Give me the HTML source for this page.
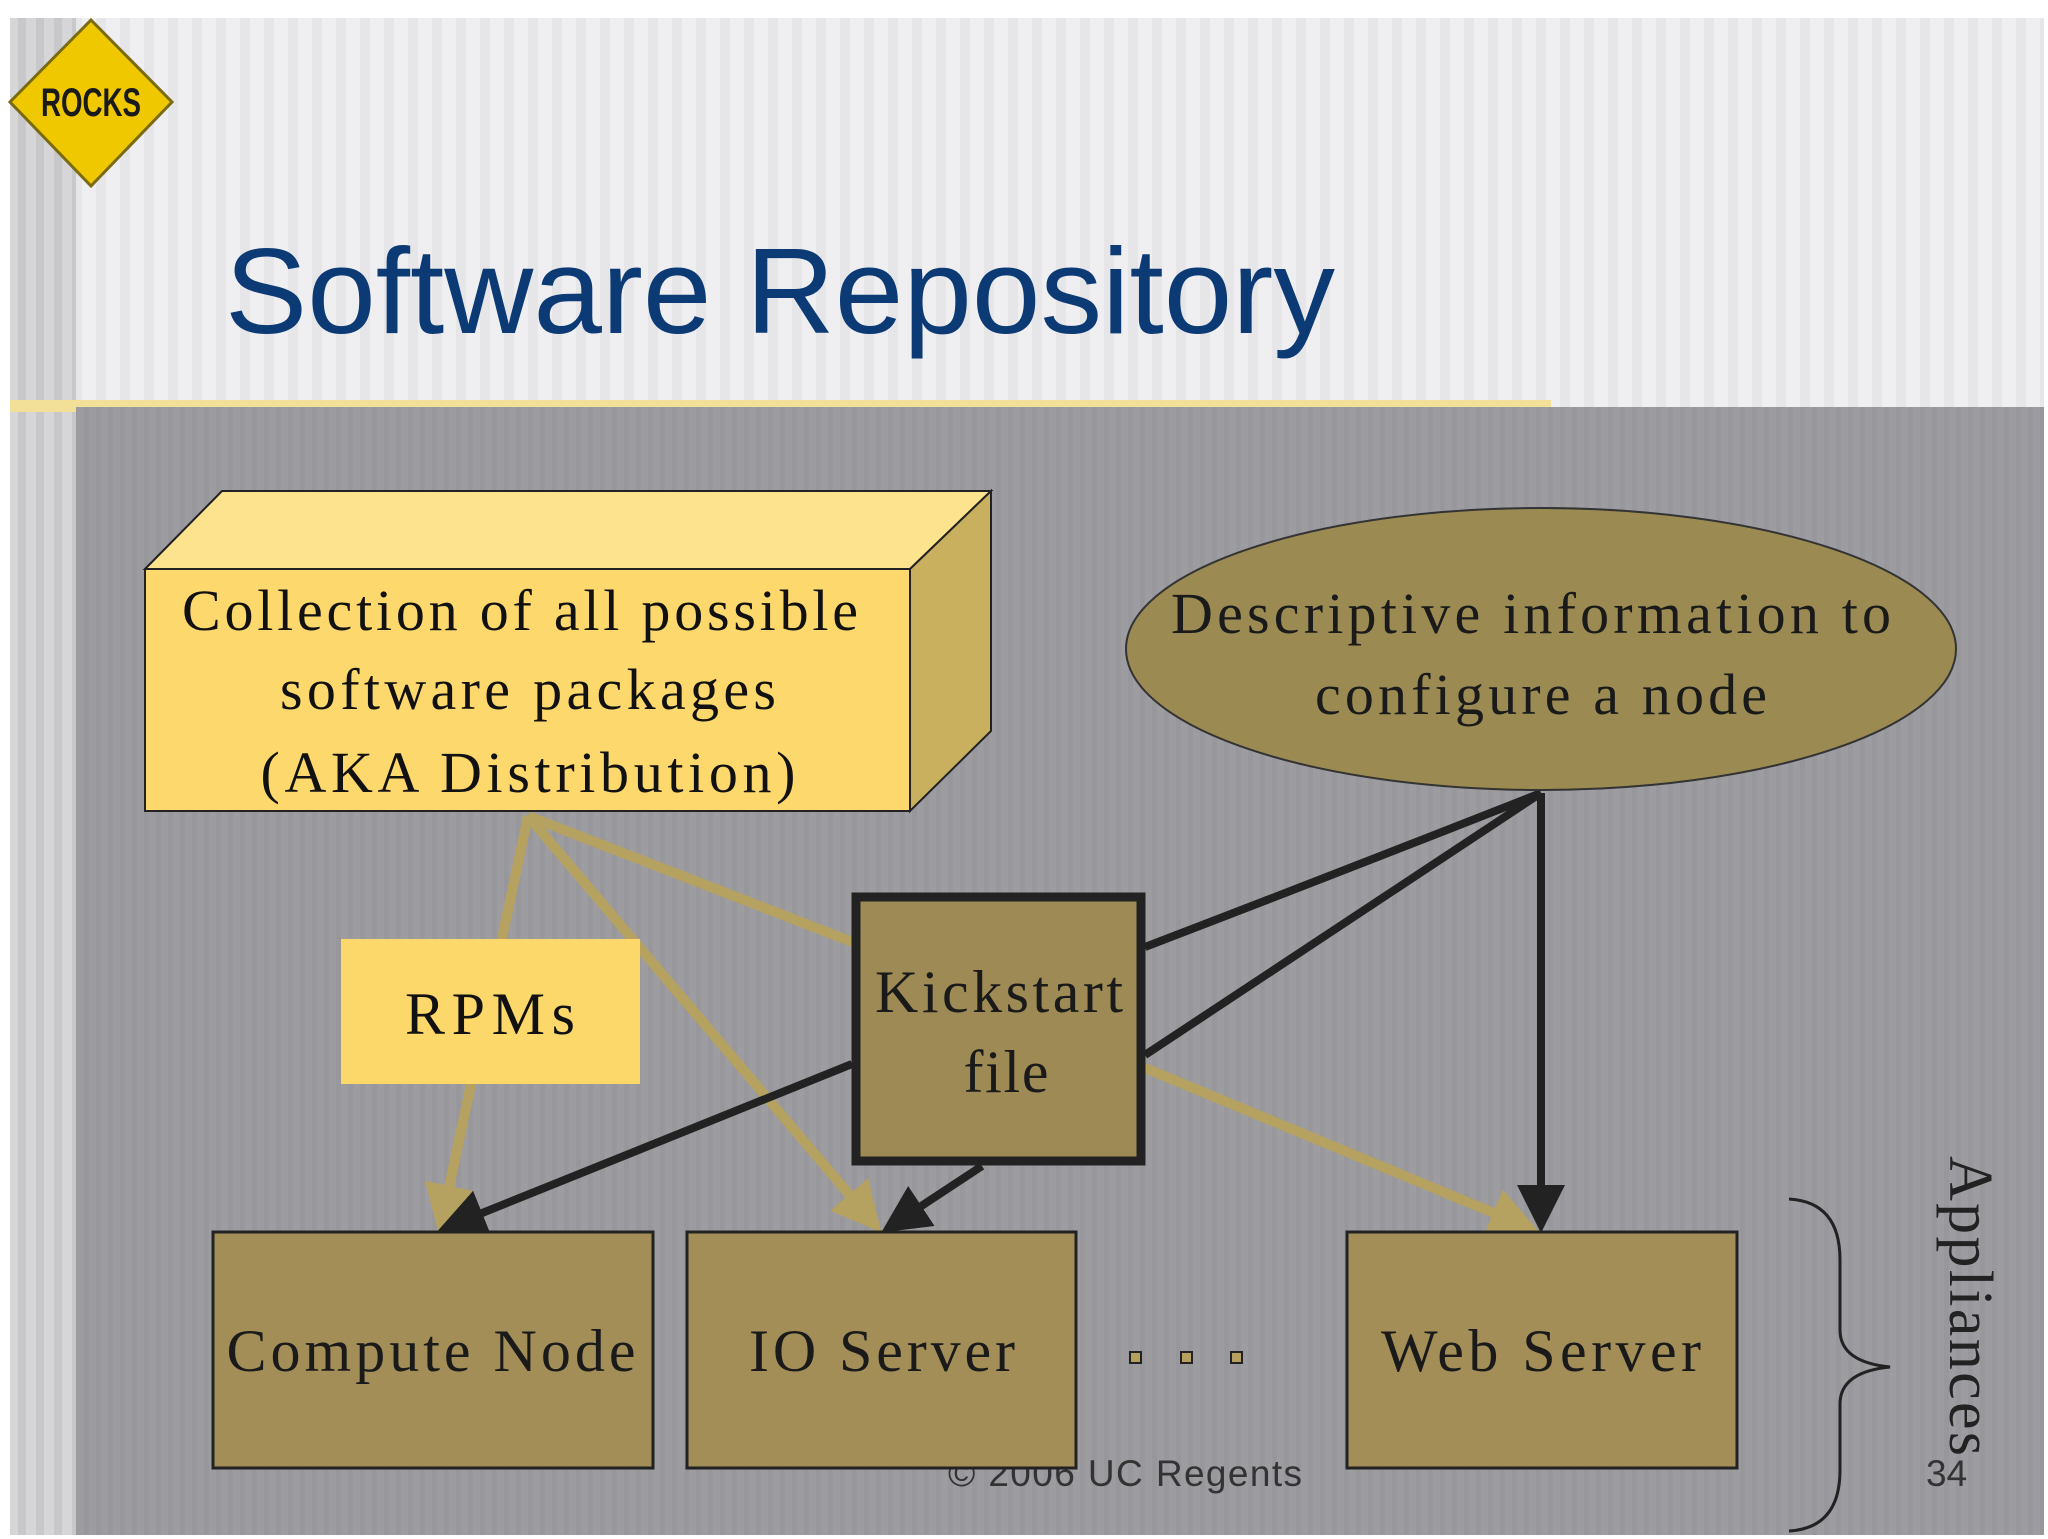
<!DOCTYPE html>
<html><head><meta charset="utf-8"><style>
html,body{margin:0;padding:0;background:#fff;}
svg{display:block}
</style></head><body>
<svg width="2048" height="1539" viewBox="0 0 2048 1539" xmlns="http://www.w3.org/2000/svg">
<defs>
<pattern id="hs" width="24" height="10" patternUnits="userSpaceOnUse">
<rect width="24" height="10" fill="#efeff1"/><rect width="10" height="10" fill="#e6e6e8"/>
</pattern>
<pattern id="gs" width="12" height="10" patternUnits="userSpaceOnUse">
<rect width="12" height="10" fill="#9d9ca1"/><rect width="5" height="10" fill="#98979c"/>
</pattern>
<pattern id="ls" width="18" height="10" patternUnits="userSpaceOnUse">
<rect width="18" height="10" fill="#d6d6d8"/><rect width="8" height="10" fill="#c8c8cb"/>
</pattern>
<marker id="ab" markerWidth="6" markerHeight="6" refX="5" refY="3" orient="auto" markerUnits="strokeWidth"><path d="M0,0 L6,3 L0,6 z" fill="#222"/></marker>
<marker id="ag" markerWidth="5" markerHeight="5" refX="4" refY="2.5" orient="auto" markerUnits="strokeWidth"><path d="M0,0 L5,2.5 L0,5 z" fill="#b5a160"/></marker>
</defs>
<rect x="10" y="18" width="2034" height="1517" fill="url(#hs)"/>
<rect x="10" y="18" width="66" height="1517" fill="url(#ls)"/>
<rect x="10" y="400" width="1541" height="12" fill="#f2df98"/>
<rect x="76" y="407" width="1968" height="1128" fill="url(#gs)"/>
<polygon points="91,20 172,102 91,186 10,102" fill="#f0c800" stroke="#7a6a10" stroke-width="3"/>
<text x="91" y="116" text-anchor="middle" font-family="Liberation Sans Narrow, Liberation Sans, sans-serif" font-weight="bold" font-size="40" fill="#1a1a1a" textLength="100" lengthAdjust="spacingAndGlyphs">ROCKS</text>
<text x="225" y="333" font-family="Liberation Sans, sans-serif" font-size="122" fill="#0b3a75" textLength="1110" lengthAdjust="spacingAndGlyphs">Software Repository</text>
<g stroke="#b5a160" stroke-width="10" fill="none">
<line x1="528" y1="816" x2="441" y2="1225" marker-end="url(#ag)"/>
<line x1="528" y1="816" x2="875" y2="1225" marker-end="url(#ag)"/>
<line x1="528" y1="816" x2="860" y2="945"/>
<line x1="1140" y1="1066" x2="1530" y2="1228" marker-end="url(#ag)"/>
</g>
<g stroke="#222" stroke-width="8" fill="none">
<line x1="852" y1="1064" x2="445" y2="1228" marker-end="url(#ab)"/>
<line x1="982" y1="1166" x2="888" y2="1228" marker-end="url(#ab)"/>
<path d="M1145,947 Q1320,880 1541,793"/>
<line x1="1145" y1="1055" x2="1541" y2="793"/>
<line x1="1541" y1="793" x2="1541" y2="1225" marker-end="url(#ab)"/>
</g>
<polygon points="145,569 222,491 991,491 910,569" fill="#fde38e" stroke="#222" stroke-width="2"/>
<polygon points="910,569 991,491 991,731 910,811" fill="#c8b05e" stroke="#222" stroke-width="2"/>
<rect x="145" y="569" width="765" height="242" fill="#fdd86c" stroke="#222" stroke-width="2"/>
<g font-family="Liberation Serif, serif" font-size="58" fill="#111" text-anchor="middle" lengthAdjust="spacing">
<text x="520" y="630" textLength="676">Collection of all possible</text>
<text x="528" y="709" textLength="496">software packages</text>
<text x="528" y="792" textLength="535">(AKA Distribution)</text>
</g>
<ellipse cx="1541" cy="649" rx="415" ry="141" fill="#9b8b52" stroke="#333" stroke-width="2"/>
<g font-family="Liberation Serif, serif" font-size="58" fill="#1a1a1a" text-anchor="middle">
<text x="1531" y="633" textLength="720">Descriptive information to</text>
<text x="1541" y="714" textLength="452">configure a node</text>
</g>
<rect x="341" y="939" width="299" height="145" fill="#fcd76a"/>
<text x="490" y="1034" font-family="Liberation Serif, serif" font-size="60" fill="#111" text-anchor="middle" textLength="170">RPMs</text>
<rect x="856" y="897" width="285" height="264" fill="#9e8a54" stroke="#222" stroke-width="9"/>
<g font-family="Liberation Serif, serif" font-size="60" fill="#1a1a1a" text-anchor="middle">
<text x="999" y="1012" textLength="248">Kickstart</text>
<text x="1006" y="1092" textLength="85">file</text>
</g>
<text x="948" y="1486" font-family="Liberation Sans, sans-serif" font-size="37" fill="#333" textLength="354">© 2006 UC Regents</text>
<text x="1926" y="1486" font-family="Liberation Sans, sans-serif" font-size="37" fill="#333">34</text>
<g fill="#a38e58" stroke="#222" stroke-width="3">
<rect x="213" y="1232" width="440" height="236"/>
<rect x="687" y="1232" width="389" height="236"/>
<rect x="1347" y="1232" width="390" height="236"/>
</g>
<g font-family="Liberation Serif, serif" font-size="60" fill="#1a1a1a" text-anchor="middle">
<text x="431" y="1371" textLength="409">Compute Node</text>
<text x="882" y="1371" textLength="266">IO Server</text>
<text x="1541" y="1371" textLength="320">Web Server</text>
</g>
<g fill="#b5a060" stroke="#222" stroke-width="2">
<rect x="1130" y="1352" width="11" height="11"/>
<rect x="1181" y="1352" width="11" height="11"/>
<rect x="1231" y="1352" width="11" height="11"/>
</g>
<path d="M1789,1199 Q1840,1202 1840,1260 L1840,1330 Q1840,1362 1890,1367 Q1840,1372 1840,1404 L1840,1470 Q1840,1528 1789,1531" fill="none" stroke="#222" stroke-width="3"/>
<text transform="translate(1950,1156) rotate(90)" font-family="Liberation Serif, serif" font-size="62" fill="#222" textLength="300">Appliances</text>
</svg>
</body></html>
